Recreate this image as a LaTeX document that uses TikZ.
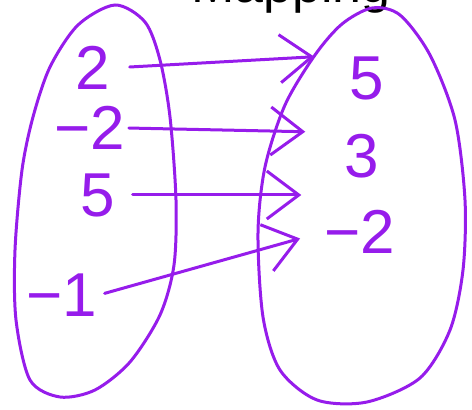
\documentclass[tikz,border=0pt]{standalone}
\usepackage{fontspec}
\setmainfont{Liberation Sans}
\usetikzlibrary{arrows.meta}
\definecolor{purp}{RGB}{150,28,235}

\begin{document}
\begin{tikzpicture}[x=0.5pt, y=-0.5pt, line width=1.5pt, >={Straight Barb[length=16pt, width=24pt]},
  num/.style={text=purp, font=\fontsize{31pt}{31pt}\selectfont, inner sep=0pt},
  link/.style={draw=purp, ->, line cap=round, line join=round}]
\useasboundingbox (0,0) rectangle (472,410);
\clip (0,0) rectangle (472,410);
\node (title) [anchor=base, font=\fontsize{26pt}{26pt}\selectfont] at (291,3) {Mapping};
\draw[purp, line cap=round] plot[smooth cycle] coordinates {(115,5) (145,22) (160,60) (170,117) (176,200) (174,265) (160,315) (130,362) (95,390) (60,397) (30,380) (16,320) (15,250) (22,170) (33,117) (50,67) (78,25)};
\draw[purp, line cap=round] plot[smooth cycle] coordinates {(372,8) (400,15) (430,55) (455,120) (465,200) (463,270) (450,330) (420,378) (367,402) (317,400) (280,370) (263,317) (258,233) (265,167) (285,105) (315,55) (342,24)};
\node (a) [num] at (93,68) {2};
\node (b) [num] at (90,128) {−2};
\node (c) [num] at (98,195) {5};
\node (d) [num] at (62,295) {−1};
\node (p) [num] at (367,78) {5};
\node (q) [num] at (362,156) {3};
\node (r) [num] at (360,232) {−2};
\draw[link, shorten <=9pt, shorten >=17pt] (a.east) -- (p.north west);
\draw[link, shorten <=1pt, shorten >=19pt] (b.east) -- (q.north west);
\draw[link, shorten <=8pt, shorten >=21pt] (c.east) -- (c.east -| q.west);
\draw[link, shorten <=3pt, shorten >=12pt] (d.east) -- (r.west);
\end{tikzpicture}
\end{document}
